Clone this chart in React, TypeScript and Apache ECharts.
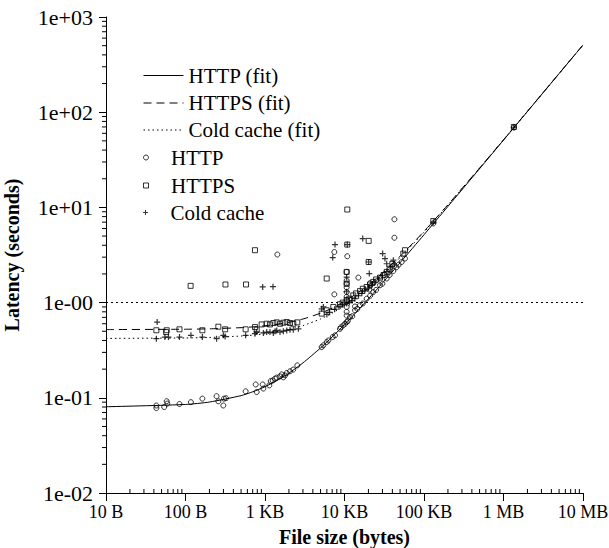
import React, { useEffect, useRef } from "react";
import * as echarts from "echarts";

const SERIF = "Liberation Serif, serif";

// Axis tick labels
const xTickLabels = ["10 B", "100 B", "1 KB", "10 KB", "100 KB", "1 MB", "10 MB"];
const yTickLabels = ["1e-02", "1e-01", "1e-00", "1e+01", "1e+02", "1e+03"];
const X_MIN = 10;
const X_MAX = 1e7;
const Y_MIN = 0.01;
const Y_MAX = 1000;

// Minor tick positions (log decades x 2..9)
const minorMult = [2, 3, 4, 5, 6, 7, 8, 9];
const xDecades = [10, 100, 1000, 10000, 100000, 1000000];
const yDecades = [0.01, 0.1, 1, 10, 100];

// Reference level (horizontal dotted line)
const refLevel = 1;

// Fitted curves
const fitX = [10, 100, 200, 500, 700, 1000, 1500, 2000, 3000, 5000, 7000, 10000, 15000, 20000, 30000, 50000, 100000, 200000, 500000, 1000000, 2000000, 5000000, 10000000];
const httpFitY = [0.0805, 0.0851, 0.0902, 0.1054, 0.1156, 0.1308, 0.1562, 0.1816, 0.2324, 0.334, 0.4356, 0.588, 0.842, 1.096, 1.604, 2.62, 5.16, 10.24, 25.48, 50.88, 101.7, 254.1, 508.1];
const httpsFitY = [0.5205, 0.5251, 0.5302, 0.5454, 0.5556, 0.5708, 0.5962, 0.6216, 0.6724, 0.774, 0.8756, 1.028, 1.282, 1.536, 2.044, 3.06, 5.6, 10.68, 25.92, 51.32, 102.1, 254.5, 508.5];
const coldFitY = [0.4205, 0.4251, 0.4302, 0.4454, 0.4556, 0.4708, 0.4962, 0.5216, 0.5724, 0.674, 0.7756, 0.928, 1.182, 1.436, 1.944, 2.96, 5.5, 10.58, 25.82, 51.22, 102.0, 254.4, 508.4];

// Measurements [file size bytes, latency s]
const httpPoints = [
  [43, 0.083], [43, 0.078], [54, 0.08], [58, 0.092], [59, 0.087], [84, 0.086], [117, 0.09], [163, 0.098],
  [246, 0.104], [259, 0.092], [299, 0.083], [305, 0.098], [323, 0.099], [571, 0.117], [764, 0.138], [786, 0.115],
  [935, 0.138], [953, 0.125], [1133, 0.135], [1180, 0.15], [1250, 0.152], [1337, 0.159], [1403, 0.163], [1545, 0.168],
  [1622, 0.176], [1702, 0.164], [1786, 0.172], [1877, 0.182], [2063, 0.19], [2269, 0.198], [2548, 0.219],
  [5166, 0.341], [5420, 0.356], [5970, 0.385], [6270, 0.4], [7110, 0.435], [7600, 0.453], [8770, 0.53], [9000, 0.55],
  [9660, 0.576], [10200, 0.6], [10640, 0.625], [11000, 0.64], [11720, 0.705], [12500, 0.72], [13550, 0.83], [14500, 0.86],
  [15670, 0.94], [17000, 0.98], [19000, 1.1], [21000, 1.18], [23000, 1.29], [25000, 1.36], [27970, 1.52], [30000, 1.58],
  [33950, 1.79], [37000, 1.95], [41120, 2.15], [45000, 2.35], [48000, 2.5], [52360, 2.67], [57650, 2.9], [131000, 6.78],
  [10640, 2.1], [10640, 1.71], [10640, 1.58], [10640, 1.44], [10640, 1.29], [10640, 1.15], [10640, 1.06], [10640, 0.9],
  [10640, 0.8], [10640, 0.73], [7450, 3.4], [10840, 3.07], [14930, 1.83], [7450, 1.22], [13550, 0.91], [42400, 7.5],
  [42400, 4.8], [20500, 1.37], [20950, 1.6], [1430, 3.2], [1350000, 69],
];
const httpsPoints = [
  [43, 0.512], [57, 0.49], [58, 0.512], [84, 0.524], [163, 0.512], [259, 0.558], [315, 0.524], [571, 0.524],
  [748, 0.553], [786, 0.52], [908, 0.59], [1050, 0.6], [1155, 0.59], [1273, 0.61], [1403, 0.62], [1545, 0.6],
  [1702, 0.615], [1877, 0.625], [2063, 0.61], [2269, 0.6], [2548, 0.62],
  [116, 1.5], [318, 1.55], [577, 1.55], [748, 3.55], [10840, 9.5], [20140, 4.45], [5970, 1.79], [10640, 2.1],
  [10640, 1.58], [20140, 2.67], [10840, 4.07],
  [5166, 0.766], [5970, 0.83], [7230, 0.9], [8770, 0.96], [9500, 1.0], [10640, 1.06], [11500, 1.1], [12900, 1.19],
  [14000, 1.25], [15670, 1.32], [17000, 1.4], [19000, 1.46], [21000, 1.55], [23000, 1.65], [25000, 1.75], [27970, 1.83],
  [31000, 1.95], [33950, 2.1], [37050, 2.27], [40000, 2.55], [54950, 3.27], [57650, 3.55], [131000, 7.2], [1350000, 70],
];
const coldPoints = [
  [44, 0.625], [43, 0.418], [55, 0.434], [61, 0.434], [84, 0.434], [117, 0.453], [163, 0.434], [246, 0.418],
  [299, 0.453], [315, 0.44], [571, 0.453], [748, 0.472], [786, 0.49], [953, 0.48], [1050, 0.49], [1155, 0.49],
  [1273, 0.48], [1337, 0.5], [1403, 0.51], [1545, 0.49], [1702, 0.5], [1877, 0.51], [2063, 0.52], [2269, 0.52], [2630, 0.53],
  [935, 1.46], [1260, 1.47], [7600, 4.07], [7110, 2.97], [16950, 4.71], [30200, 3.27], [32300, 2.9], [33950, 2.56],
  [20500, 2.02], [41120, 2.79], [10840, 4.07], [20140, 2.67], [10640, 1.85], [10640, 1.3],
  [5166, 0.86], [5420, 0.9], [6000, 0.75], [6500, 0.79], [7500, 0.85], [8500, 0.9], [9500, 0.95], [10640, 0.98],
  [11500, 1.0], [12500, 1.05], [13500, 1.1], [15000, 1.18], [16500, 1.25], [18000, 1.33], [20000, 1.42], [22000, 1.52],
  [24000, 1.62], [27000, 1.78], [30000, 1.92], [34000, 2.12], [38000, 2.35], [42000, 2.55], [131000, 7.0], [1350000, 69.5],
];

const legendNames = ["HTTP (fit)", "HTTPS (fit)", "Cold cache (fit)", "HTTP", "HTTPS", "Cold cache"];
const legendCenters = [75.5, 103, 130, 157.5, 185.5, 212.5];

const PLUS = "path://M2,0h1v2h2v1h-2v2h-1v-2h-2v-1h2z";
const SQUARE = "path://M0,0L10,0L10,10L0,10Z";

export default function App() {
  const ref = useRef<HTMLDivElement>(null);
  useEffect(() => {
    if (!ref.current) return;
    const chart = echarts.init(ref.current, null, { renderer: "svg" });

    const xMinorTicks = xDecades.flatMap((d) => minorMult.map((m) => m * d));
    const yMinorTicks = yDecades.flatMap((d) => minorMult.map((m) => +(m * d).toPrecision(6)));

    const legends = legendNames.map((name, i) => {
      const isLine = i < 3;
      return {
        data: [name],
        left: 143,
        top: legendCenters[i] - 12,
        orient: "vertical",
        padding: 0,
        itemWidth: 40,
        itemHeight: 5,
        selectedMode: false,
        textStyle: { fontFamily: SERIF, fontSize: 21, color: "#000", lineHeight: 24 },
        lineStyle: { width: 1 },
        itemStyle: isLine ? { color: "rgba(0,0,0,0)", borderWidth: 0, opacity: 0 } : { borderWidth: i === 5 ? 0 : 1 },
      };
    });

    const lineSeries = (name: string, ys: number[], type: any, extra: any = {}) => ({
      name,
      type: "line",
      data: fitX.map((x, i) => [x, ys[i]]),
      symbol: "none",
      showSymbol: false,
      smooth: 0.2,
      lineStyle: { color: "#000", width: 1, type },
      itemStyle: { color: "#000" },
      z: 3,
      silent: true,
      ...extra,
    });

    const hollow = { color: "rgba(0,0,0,0)", borderColor: "#000", borderWidth: 1 };

    chart.setOption({
      animation: false,
      legend: legends,
      grid: { left: 106, right: 26, top: 17, bottom: 55, containLabel: false, outerBoundsMode: "none" },
      xAxis: {
        type: "log",
        logBase: 10,
        min: X_MIN,
        max: X_MAX,
        axisLine: { show: true, onZero: false, lineStyle: { color: "#000", width: 1 } },
        axisTick: { show: true, length: 8, lineStyle: { color: "#000", width: 1 } },
        minorTick: { show: false },
        splitLine: { show: false },
        axisLabel: {
          fontFamily: SERIF,
          fontSize: 18,
          color: "#000",
          margin: 10,
          formatter: (v: number) => xTickLabels[Math.round(Math.log10(v)) - 1] ?? "",
        },
        name: "File size (bytes)",
        nameLocation: "middle",
        nameGap: 34,
        nameTextStyle: { fontFamily: SERIF, fontSize: 20, fontWeight: "bold", color: "#000" },
      },
      yAxis: {
        type: "log",
        logBase: 10,
        min: Y_MIN,
        max: Y_MAX,
        axisLine: { show: true, onZero: false, lineStyle: { color: "#000", width: 1 } },
        axisTick: { show: true, length: 7, lineStyle: { color: "#000", width: 1 } },
        minorTick: { show: false },
        splitLine: { show: false },
        axisLabel: {
          fontFamily: SERIF,
          fontSize: 22,
          color: "#000",
          margin: 13,
          formatter: (v: number) => yTickLabels[Math.round(Math.log10(v)) + 2] ?? "",
        },
        name: "Latency (seconds)",
        nameLocation: "middle",
        nameGap: 84,
        nameTextStyle: { fontFamily: SERIF, fontSize: 20, fontWeight: "bold", color: "#000" },
      },
      series: [
        lineSeries("HTTP (fit)", httpFitY, "solid"),
        lineSeries("HTTPS (fit)", httpsFitY, [8, 5]),
        lineSeries("Cold cache (fit)", coldFitY, [1.5, 3], {
          markLine: {
            silent: true,
            symbol: ["none", "none"],
            label: { show: false },
            lineStyle: { color: "#000", width: 1, type: [2, 3] },
            data: [{ yAxis: refLevel }],
          },
        }),
        {
          name: "HTTP",
          type: "scatter",
          data: httpPoints,
          symbol: "circle",
          symbolSize: 5,
          itemStyle: hollow,
          z: 4,
          silent: true,
        },
        {
          name: "HTTPS",
          type: "scatter",
          data: httpsPoints,
          symbol: SQUARE,
          symbolSize: 5,
          symbolKeepAspect: true,
          itemStyle: hollow,
          z: 4,
          silent: true,
        },
        {
          name: "Cold cache",
          type: "scatter",
          data: coldPoints,
          symbol: PLUS,
          symbolSize: 6,
          itemStyle: { color: "#000" },
          z: 4,
          silent: true,
        },
        {
          type: "custom",
          silent: true,
          clip: false,
          z: 6,
          encode: { x: 0, y: 1 },
          data: xMinorTicks.map((v) => [v, Y_MIN]),
          renderItem: (_p: any, api: any) => {
            const p = api.coord([api.value(0), api.value(1)]);
            return {
              type: "line",
              shape: { x1: p[0], y1: p[1], x2: p[0], y2: p[1] - 4 },
              style: { stroke: "#000", lineWidth: 1 },
            };
          },
        },
        {
          type: "custom",
          silent: true,
          clip: false,
          z: 6,
          encode: { x: 0, y: 1 },
          data: yMinorTicks.map((v) => [X_MIN, v]),
          renderItem: (_p: any, api: any) => {
            const p = api.coord([api.value(0), api.value(1)]);
            return {
              type: "line",
              shape: { x1: p[0], y1: p[1], x2: p[0] - 4, y2: p[1] },
              style: { stroke: "#000", lineWidth: 1 },
            };
          },
        },
      ],
    });
    return () => chart.dispose();
  }, []);

  return (
    <div
      ref={ref}
      style={{ position: "absolute", left: 0, top: 0, width: 609, height: 548, background: "#fff" }}
    />
  );
}
